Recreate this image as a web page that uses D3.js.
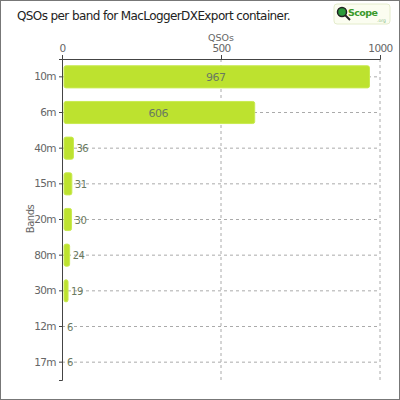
<!DOCTYPE html><html><head><script src="https://cdn.jsdelivr.net/npm/d3@7"></script>
<style>body{margin:0}svg{font-family:"DejaVu Sans",sans-serif}</style></head><body><svg width="400" height="400"></svg>
<script>
const bands=["10m","6m","40m","15m","20m","80m","30m","12m","17m"];
const qsos=[967,606,36,31,30,24,19,6,6];
const ticks=[0,500,1000];
const svg=d3.select("svg");
svg.append("rect").attr("x",0.5).attr("y",0.5).attr("width",399).attr("height",399).attr("fill","#fff").attr("stroke","#777");
svg.append("text").attr("x",17).attr("y",20).attr("font-size",12).attr("fill","#222").attr("letter-spacing",-0.6).text("QSOs per band for MacLoggerDXExport container.");
const lg=svg.append("g");
lg.append("rect").attr("x",334).attr("y",4).attr("width",56).attr("height",20).attr("rx",3).attr("fill","#fbfdf0").attr("stroke","#e4eccc");
lg.append("circle").attr("cx",342).attr("cy",12).attr("r",4.5).attr("fill","#2a9a3a").attr("stroke","#222").attr("stroke-width",1.5);
lg.append("line").attr("x1",345).attr("y1",15).attr("x2",350).attr("y2",20).attr("stroke","#222").attr("stroke-width",2);
lg.append("text").attr("x",348).attr("y",16).attr("font-size",9.5).attr("font-weight","bold").attr("fill","#3a9a2a").attr("letter-spacing",-0.6).text("Scope");
lg.append("text").attr("x",377).attr("y",22).attr("font-size",4.5).attr("fill","#8b8").text(".org");
const x=d3.scaleLinear().domain([0,1000]).range([62,380]);
const y=d3.scaleBand().domain(bands).range([59,380]).paddingInner(0.38).paddingOuter(0.19);
const g=svg.append("g");
bands.forEach(b=>g.append("line").attr("x1",62).attr("x2",380).attr("y1",y(b)+y.bandwidth()/2).attr("y2",y(b)+y.bandwidth()/2).attr("stroke","#aaa").attr("stroke-dasharray","3,3"));
ticks.slice(1).forEach(t=>g.append("line").attr("x1",x(t)).attr("x2",x(t)).attr("y1",59).attr("y2",380).attr("stroke","#aaa").attr("stroke-dasharray","3,3"));
g.selectAll(".bar").data(qsos).join("rect").attr("x",x(0)+2).attr("y",(d,i)=>y(bands[i])).attr("width",d=>Math.max(0,x(d)-x(0)-2)).attr("height",y.bandwidth()).attr("rx",2).attr("fill","#bde22f").attr("stroke","#c8ea50");
g.selectAll(".lab").data(qsos).join("text").attr("x",(d,i)=>d>200?(x(0)+x(d))/2:x(d)+3).attr("text-anchor",d=>d>200?"middle":"start")
 .attr("y",(d,i)=>y(bands[i])+y.bandwidth()/2+4).attr("font-size",d=>d>200?11:10).attr("fill","#6a7a60").attr("letter-spacing",-0.5).text(d=>d);
const ax=svg.append("g").attr("transform","translate(0,59)").call(d3.axisTop(x).tickValues(ticks).tickSize(4).tickFormat(d3.format("d")));
const ay=svg.append("g").attr("transform","translate(62,0)").call(d3.axisLeft(y).tickSize(3));
[ax,ay].forEach(a=>{a.selectAll("path,line").attr("stroke","#444");a.selectAll("text").attr("fill","#666").attr("font-size",10.5).attr("font-family","DejaVu Sans").attr("letter-spacing",-0.6);});
svg.append("text").attr("x",221).attr("y",41).attr("text-anchor","middle").attr("font-size",9.5).attr("fill","#666").text("QSOs");
svg.append("text").attr("transform","translate(34,219) rotate(-90)").attr("text-anchor","middle").attr("font-size",10).attr("fill","#666").attr("letter-spacing",-0.5).text("Bands");
</script></body></html>
